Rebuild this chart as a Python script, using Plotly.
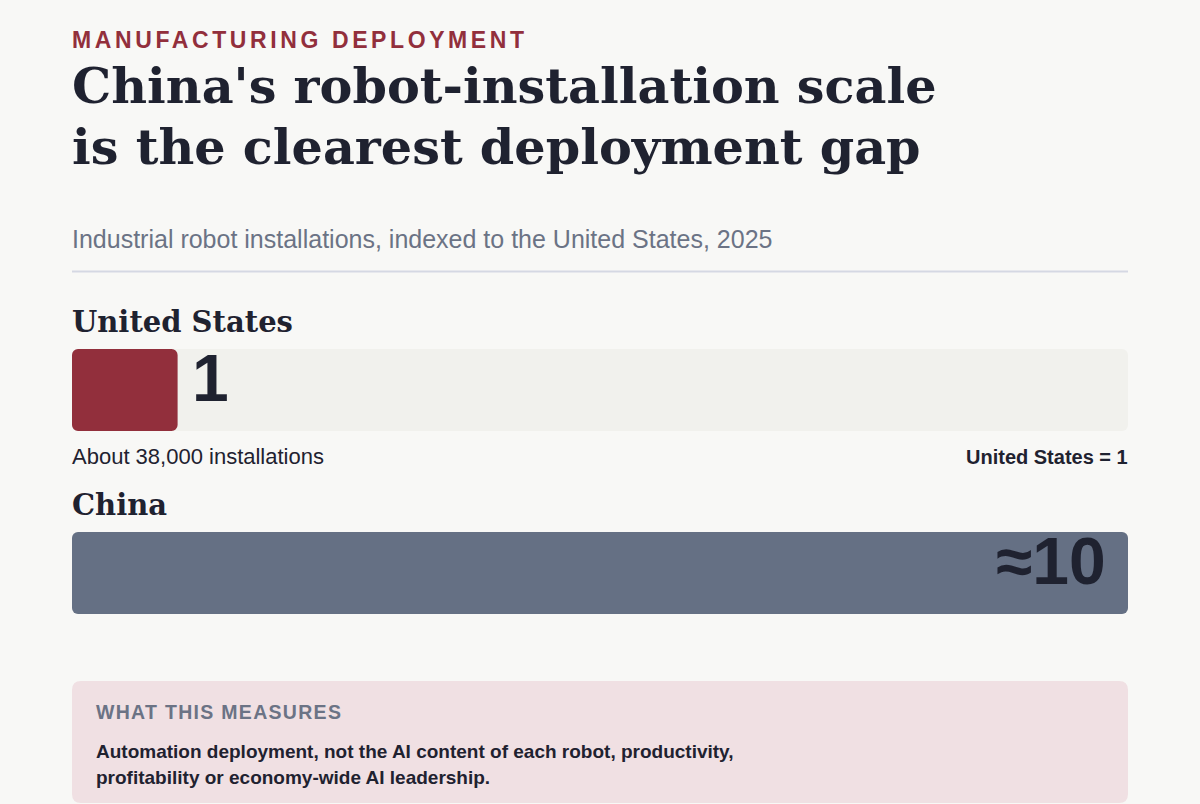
import plotly.graph_objects as go

# data
countries = ["United States", "China"]
index_values = [1, 10]
value_labels = ["1", "≈10"]
us_note = "About 38,000 installations"
scale_note = "United States = 1"
scale_max = 10

W, H = 1200, 804
LEFT, RIGHT = 72, 1128
PLOT_TOP, PLOT_BOTTOM = 349, 614

BG = "#f8f8f6"
TRACK = "#f1f1ed"
RED = "#922f3c"
SLATE = "#657084"
INK = "#1f2230"
GREY = "#6b7385"
SERIF = "DejaVu Serif"
SANS = "Liberation Sans"


def px(p):
    return (p - LEFT) / (RIGHT - LEFT)


def py(p):
    return (PLOT_BOTTOM - p) / (PLOT_BOTTOM - PLOT_TOP)


def rounded_rect(x0, y0, x1, y1, r):
    # pixel box -> paper path with rounded corners
    rx = r / (RIGHT - LEFT)
    ry = r / (PLOT_BOTTOM - PLOT_TOP)
    a, b, c, d = px(x0), py(y0), px(x1), py(y1)  # b top, d bottom
    return (f"M{a+rx},{b} L{c-rx},{b} Q{c},{b} {c},{b-ry} "
            f"L{c},{d+ry} Q{c},{d} {c-rx},{d} L{a+rx},{d} "
            f"Q{a},{d} {a},{d+ry} L{a},{b-ry} Q{a},{b} {a+rx},{b} Z")


# bar rows: China at 0, United States at 1
ypos = [1, 0]
bar_w = 82 / 183

fig = go.Figure()

# background track
fig.add_trace(go.Bar(
    x=[scale_max] * len(countries), base=[0] * len(countries), y=ypos,
    orientation="h", width=bar_w, marker_color=TRACK, marker_line_width=0,
    hoverinfo="skip", showlegend=False
))

# values
fig.add_trace(go.Bar(
    x=index_values, base=[0] * len(countries), y=ypos, orientation="h",
    width=bar_w, marker_color=[RED, SLATE], marker_line_width=0,
    hovertemplate="%{x}<extra></extra>", showlegend=False
))

# value labels
fig.add_annotation(x=index_values[0], y=ypos[0], xref="x", yref="y",
                   text=f"<b>{value_labels[0]}</b>", showarrow=False,
                   xanchor="left", yanchor="middle", xshift=12, yshift=12,
                   font=dict(family=SANS, size=66, color=INK))
fig.add_annotation(x=index_values[1], y=ypos[1], xref="x", yref="y",
                   text=f"<b>{value_labels[1]}</b>", showarrow=False,
                   xanchor="right", yanchor="middle", xshift=-20, yshift=12,
                   font=dict(family=SANS, size=66, color=INK))

texts = [
    # (text, x px, y px center, anchor, font, size, color)
    ('<span style="letter-spacing:3.6px"><b>MANUFACTURING DEPLOYMENT</b></span>',
     LEFT, 40, "left", SANS, 23, RED),
    ("<b>China's robot-installation scale</b>", LEFT, 86, "left", SERIF, 49.3, INK),
    ("<b>is the clearest deployment gap</b>", LEFT, 147, "left", SERIF, 49.3, INK),
    ("Industrial robot installations, indexed to the United States, 2025",
     LEFT, 239, "left", SANS, 25, GREY),
    (f"<b>{countries[0]}</b>", LEFT, 322, "left", SERIF, 29, INK),
    (us_note, LEFT, 456, "left", SANS, 22, INK),
    (f"<b>{scale_note}</b>", RIGHT, 457, "right", SANS, 20, INK),
    (f"<b>{countries[1]}</b>", LEFT, 505, "left", SERIF, 29, INK),
    ('<span style="letter-spacing:1.3px"><b>WHAT THIS MEASURES</b></span>',
     96, 712, "left", SANS, 19.5, GREY),
    ("<b>Automation deployment, not the AI content of each robot, productivity,</b>",
     96, 751, "left", SANS, 19, INK),
    ("<b>profitability or economy-wide AI leadership.</b>",
     96, 777, "left", SANS, 19, INK),
]
for t, x, y, anchor, fam, size, color in texts:
    fig.add_annotation(x=px(x), y=py(y), xref="paper", yref="paper",
                       text=t, showarrow=False, xanchor=anchor,
                       yanchor="middle", align=anchor,
                       xshift=-2 if anchor == "left" else 2,
                       font=dict(family=fam, size=size, color=color))

# divider and note box
fig.add_shape(type="line", xref="paper", yref="paper",
              x0=0, x1=1, y0=py(271.5), y1=py(271.5),
              line=dict(color="#d5d8e3", width=2), layer="below")
fig.add_shape(type="path", xref="paper", yref="paper",
              path=rounded_rect(LEFT, 681, RIGHT, 803, 9),
              fillcolor="#f0e0e3", line_width=0, layer="below")

fig.update_layout(
    width=W, height=H,
    margin=dict(l=LEFT, r=W - RIGHT, t=PLOT_TOP, b=H - PLOT_BOTTOM),
    paper_bgcolor=BG, plot_bgcolor=BG,
    barmode="overlay", barcornerradius=6,
    xaxis=dict(range=[0, scale_max], visible=False, fixedrange=True),
    yaxis=dict(range=[-41 / 183, 1 + 41 / 183], visible=False, fixedrange=True),
    hoverlabel=dict(font_family=SANS),
)

fig.write_html("out.html", config={"displayModeBar": False},
               post_script="document.body.style.margin='0';"
                           "document.body.style.background='%s';" % BG)
